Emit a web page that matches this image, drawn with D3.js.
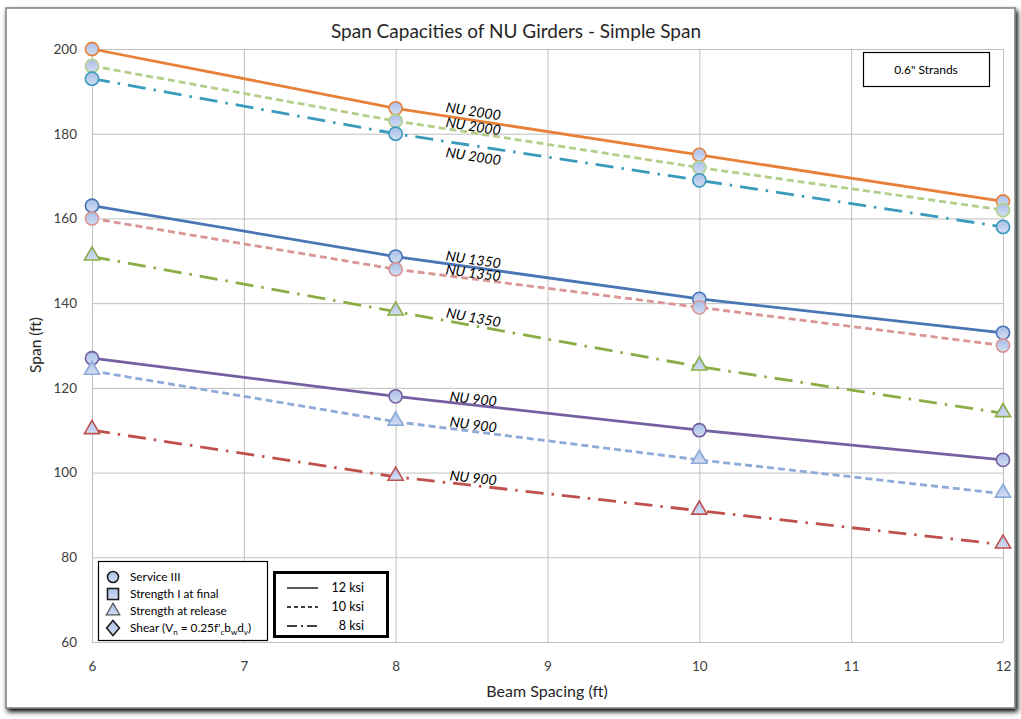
<!DOCTYPE html>
<html><head><meta charset="utf-8">
<script src="https://cdn.jsdelivr.net/npm/d3@7"></script>
<style>body{margin:0;background:#fff;} text{font-family:Lato,"Open Sans",sans-serif;}</style>
</head><body>
<svg id="c" width="1021" height="719"></svg>
<script>
const spacing = [6, 8, 10, 12];
const xTicks = [6, 7, 8, 9, 10, 11, 12];
const yTicks = [60, 80, 100, 120, 140, 160, 180, 200];
const seriesNames = ["NU 2000 12", "NU 2000 10", "NU 2000 8", "NU 1350 12", "NU 1350 10", "NU 1350 8", "NU 900 12", "NU 900 10", "NU 900 8"];
const girder = ["NU 2000", "NU 2000", "NU 2000", "NU 1350", "NU 1350", "NU 1350", "NU 900", "NU 900", "NU 900"];
const ksi = [12, 10, 8, 12, 10, 8, 12, 10, 8];
const marker = ["circle", "circle", "circle", "circle", "circle", "triangle", "circle", "triangle", "triangle"];
const nu2000_12 = [200, 186, 175, 164];
const nu2000_10 = [196, 183, 172, 162];
const nu2000_8 = [193, 180, 169, 158];
const nu1350_12 = [163, 151, 141, 133];
const nu1350_10 = [160, 148, 139, 130];
const nu1350_8 = [151, 138, 125, 114];
const nu900_12 = [127, 118, 110, 103];
const nu900_10 = [124, 112, 103, 95];
const nu900_8 = [110, 99, 91, 83];
const values = [nu2000_12, nu2000_10, nu2000_8, nu1350_12, nu1350_10, nu1350_8, nu900_12, nu900_10, nu900_8];
const colors = ["#e8803a", "#b3cf8a", "#3b9bbd", "#4a76b5", "#d99694", "#8aad45", "#7460a0", "#8eaad9", "#c0504d"];
const legendMarkers = ["Service III", "Strength I at final", "Strength at release", "Shear"];
const legendLines = ["12 ksi", "10 ksi", "8 ksi"];

const svg = d3.select("#c");
const defs = svg.append("defs");
const g1 = defs.append("linearGradient").attr("id","mk").attr("x1",0).attr("y1",0).attr("x2",0).attr("y2",1);
g1.append("stop").attr("offset","0%").attr("stop-color","#a9bfe8");
g1.append("stop").attr("offset","100%").attr("stop-color","#d3def3");
const sh = defs.append("filter").attr("id","sh").attr("x","-5%").attr("y","-5%").attr("width","110%").attr("height","110%");
sh.append("feGaussianBlur").attr("in","SourceAlpha").attr("stdDeviation",2.5).attr("result","b");
sh.append("feOffset").attr("dx",2).attr("dy",3).attr("result","o");
const mg = sh.append("feMerge"); mg.append("feMergeNode").attr("in","o"); mg.append("feMergeNode").attr("in","SourceGraphic");

// outer frame
svg.append("rect").attr("x",6).attr("y",8).attr("width",1009).attr("height",700)
  .attr("fill","#fff").attr("stroke","#7f7f7f").attr("stroke-width",1.5).attr("filter","url(#sh)");

const x = d3.scaleLinear().domain([6,12]).range([92,1003]);
const y = d3.scaleLinear().domain([60,200]).range([642,49]);

// grid
const gx = svg.append("g").attr("transform","translate(0,642)")
  .call(d3.axisBottom(x).tickValues(xTicks).tickSize(-593).tickFormat(""));
gx.select(".domain").remove();
gx.selectAll("line").attr("stroke","#bfbfbf");
const gy = svg.append("g").attr("transform","translate(92,0)")
  .call(d3.axisLeft(y).tickValues(yTicks).tickSize(-911).tickFormat(""));
gy.select(".domain").remove();
gy.selectAll("line").attr("stroke","#bfbfbf");

// tick labels
const ax = svg.append("g").attr("transform","translate(0,642)")
  .call(d3.axisBottom(x).tickValues(xTicks).tickSize(0).tickPadding(19).tickFormat(d3.format("d")));
ax.select(".domain").remove();
ax.selectAll("text").attr("font-size",13.5).attr("fill","#404040").style("font-family","Lato");
const ay = svg.append("g").attr("transform","translate(92,0)")
  .call(d3.axisLeft(y).tickValues(yTicks).tickSize(0).tickPadding(15).tickFormat(d3.format("d")));
ay.select(".domain").remove();
ay.selectAll("text").attr("font-size",13.5).attr("fill","#404040").style("font-family","Lato");

// titles
svg.append("text").attr("x",516).attr("y",38).attr("text-anchor","middle").attr("font-size",19).attr("fill","#262626").text("Span Capacities of NU Girders - Simple Span");
svg.append("text").attr("x",547).attr("y",697).attr("text-anchor","middle").attr("font-size",16).attr("fill","#262626").text("Beam Spacing (ft)");
svg.append("text").attr("transform","translate(41,345) rotate(-90)").attr("text-anchor","middle").attr("font-size",15.5).attr("fill","#262626").text("Span (ft)");

const dashFor = k => k===12 ? null : (k===10 ? "7,4" : "18,8,2.5,8");
const line = d3.line().x((d,i)=>x(spacing[i])).y(d=>y(d));
const tri = d3.symbol().type(d3.symbolTriangle).size(100);

values.forEach((vals,si)=>{
  svg.append("path").datum(vals).attr("d",line).attr("fill","none")
    .attr("stroke",colors[si]).attr("stroke-width",2.8)
    .attr("stroke-dasharray",dashFor(ksi[si]));
});
values.forEach((vals,si)=>{
  const g = svg.append("g");
  vals.forEach((v,i)=>{
    if(marker[si]==="circle"){
      g.append("circle").attr("cx",x(spacing[i])).attr("cy",y(v)).attr("r",6.6)
        .attr("fill","url(#mk)").attr("stroke",colors[si]).attr("stroke-width",1.6);
    } else {
      g.append("path").attr("d",tri).attr("transform",`translate(${x(spacing[i])},${y(v)-1})`)
        .attr("fill","url(#mk)").attr("stroke",colors[si]).attr("stroke-width",1.6);
    }
  });
});

// line labels near x = 8.5 along each line
values.forEach((vals,si)=>{
  const xv = 8.5;
  const ang = Math.atan2(y(vals[2]) - y(vals[1]), x(10)-x(8)) * 180/Math.PI;
  const yy = y(vals[1] + (vals[2]-vals[1])*(xv-8)/2);
  const offs = [ -3.8, -1.5, 15.8, -2.7, -1, -3, -1, -1.8, -2.5 ];
  svg.append("text").attr("transform",`translate(${x(xv)+1},${yy+offs[si]}) rotate(${ang})`)
    .attr("text-anchor","middle").attr("font-size",14).attr("font-style","italic").attr("fill","#000")
    .text(girder[si]);
});

// Strands box
svg.append("rect").attr("x",863.5).attr("y",52.5).attr("width",126).attr("height",34).attr("fill","#fff").attr("stroke","#000").attr("stroke-width",1.2);
svg.append("text").attr("x",926).attr("y",74).attr("text-anchor","middle").attr("font-size",12).attr("fill","#000").text('0.6" Strands');

// marker legend
const lg = svg.append("g");
lg.append("rect").attr("x",98.5).attr("y",561.5).attr("width",169).attr("height",79).attr("fill","#fff").attr("stroke","#000").attr("stroke-width",1.2);
const lx = 113, ly0 = 577, ldy = 17;
legendMarkers.forEach((t,i)=>{
  const cy = ly0 + i*ldy;
  if(i===0) lg.append("circle").attr("cx",lx).attr("cy",cy).attr("r",5.5).attr("fill","url(#mk)").attr("stroke","#1f1f1f").attr("stroke-width",1.6);
  if(i===1) lg.append("rect").attr("x",lx-5.5).attr("y",cy-5.5).attr("width",11).attr("height",11).attr("fill","url(#mk)").attr("stroke","#1f1f1f").attr("stroke-width",1.6);
  if(i===2) lg.append("path").attr("d",d3.symbol().type(d3.symbolTriangle).size(80)).attr("transform",`translate(${lx},${cy})`).attr("fill","url(#mk)").attr("stroke","#555").attr("stroke-width",1.2);
  if(i===3) lg.append("path").attr("d",d3.symbol().type(d3.symbolDiamond).size(90)).attr("transform",`translate(${lx},${cy}) scale(1.25,0.85)`).attr("fill","url(#mk)").attr("stroke","#1f1f1f").attr("stroke-width",1.5);
  const tx = lg.append("text").attr("x",130).attr("y",cy+4).attr("font-size",11.8).attr("fill","#000");
  if(i<3) tx.text(t);
  else {
    tx.text(t+" (V");
    tx.append("tspan").attr("font-size",8).attr("dy",3).text("n");
    tx.append("tspan").attr("dy",-3).text(" = 0.25f'");
    tx.append("tspan").attr("font-size",8).attr("dy",3).text("c");
    tx.append("tspan").attr("dy",-3).text("b");
    tx.append("tspan").attr("font-size",8).attr("dy",3).text("w");
    tx.append("tspan").attr("dy",-3).text("d");
    tx.append("tspan").attr("font-size",8).attr("dy",3).text("v");
    tx.append("tspan").attr("dy",-3).text(")");
  }
});

// line-style legend
const lg2 = svg.append("g");
lg2.append("rect").attr("x",274.5).attr("y",572.5).attr("width",113).attr("height",64).attr("fill","#fff").attr("stroke","#000").attr("stroke-width",3);
const dashLeg = [null, "4,3", "10,4,2,4"];
legendLines.forEach((t,i)=>{
  const cy = 588 + i*19;
  lg2.append("line").attr("x1",287).attr("x2",318).attr("y1",cy).attr("y2",cy).attr("stroke","#000").attr("stroke-width",1.3).attr("stroke-dasharray",dashLeg[i]);
  lg2.append("text").attr("x",364).attr("y",cy+4).attr("text-anchor","end").attr("font-size",12.5).attr("fill","#000").text(t);
});
</script>
</body></html>
